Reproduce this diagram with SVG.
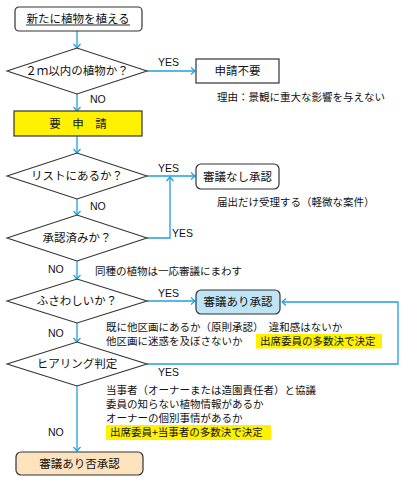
<svg xmlns="http://www.w3.org/2000/svg" width="405" height="482" viewBox="0 0 405 482">
<defs>
<style>
.bx{fill:#fff;stroke:#333;stroke-width:1.2}
.dm{fill:#fff;stroke:#333;stroke-width:1.1}
.t{font-family:"Noto Sans CJK JP","Noto Sans",sans-serif;font-size:11.5px;fill:#111;text-anchor:middle}
.s{font-family:"Noto Sans CJK JP","Noto Sans",sans-serif;font-size:10.5px;fill:#111}
.l{font-family:"Liberation Sans",Arial,sans-serif;font-size:10.5px;fill:#111}
.c{fill:none;stroke:#1e9fe0;stroke-width:1.3}
.hl{fill:#fff100}
</style>
<marker id="ah" viewBox="-6 -5 7 10" markerWidth="7" markerHeight="10" refX="0" refY="0" orient="auto" markerUnits="userSpaceOnUse">
<path d="M-4,-3.5 L0,0 L-4,3.5" fill="none" stroke="#1e9fe0" stroke-width="1.2"/>
</marker>
</defs>
<rect width="405" height="482" fill="#fff"/>

<g id="connectors">
<line class="c" x1="77" y1="31" x2="77" y2="48" marker-end="url(#ah)"/>
<line class="c" x1="147" y1="71" x2="195" y2="71" marker-end="url(#ah)"/>
<line class="c" x1="77" y1="94" x2="77" y2="111" marker-end="url(#ah)"/>
<line class="c" x1="77" y1="136" x2="77" y2="153" marker-end="url(#ah)"/>
<line class="c" x1="147" y1="176" x2="195" y2="176" marker-end="url(#ah)"/>
<line class="c" x1="77" y1="199" x2="77" y2="215" marker-end="url(#ah)"/>
<polyline class="c" points="147,238 170,238 170,177" marker-end="url(#ah)"/>
<line class="c" x1="77" y1="261" x2="77" y2="279" marker-end="url(#ah)"/>
<line class="c" x1="147" y1="301" x2="195" y2="301" marker-end="url(#ah)"/>
<line class="c" x1="77" y1="323" x2="77" y2="342" marker-end="url(#ah)"/>
<polyline class="c" points="147,364 398,364 398,302 282,302" marker-end="url(#ah)"/>
<line class="c" x1="77" y1="386" x2="77" y2="451" marker-end="url(#ah)"/>
<text class="l" x="158" y="66">YES</text>
<text class="l" x="90" y="103">NO</text>
<text class="l" x="158" y="172">YES</text>
<text class="l" x="90" y="210">NO</text>
<text class="l" x="172" y="237">YES</text>
<text class="l" x="48" y="273">NO</text>
<text class="l" x="158" y="297">YES</text>
<text class="l" x="48" y="337">NO</text>
<text class="l" x="158" y="376">YES</text>
<text class="l" x="48" y="436">NO</text>
</g>

<g id="start">
<rect class="bx" x="15" y="7" width="127" height="24" rx="4"/>
<text class="t" x="78" y="23">新たに植物を植える</text>
<line x1="26" y1="25" x2="130" y2="25" stroke="#111" stroke-width="0.9"/>
</g>

<g id="q-2m">
<polygon class="dm" points="7,71 77,48 147,71 77,94"/>
<text class="t" x="77" y="75">２ｍ以内の植物か？</text>
</g>

<g id="no-application">
<rect class="bx" x="196" y="59" width="83" height="24"/>
<text class="t" x="237.5" y="75">申請不要</text>
<text class="s" x="217" y="101">理由：景観に重大な影響を与えない</text>
</g>

<g id="application">
<rect x="14" y="111" width="128" height="25" fill="#fff100" stroke="#333" stroke-width="1.2"/>
<text class="t" x="78" y="128">要　申　請</text>
</g>

<g id="q-list">
<polygon class="dm" points="7,176 77,153 147,176 77,199"/>
<text class="t" x="77" y="180">リストにあるか？</text>
</g>

<g id="approve-no-review">
<rect class="bx" x="196" y="164" width="83" height="25" rx="5"/>
<text class="t" x="237.5" y="181">審議なし承認</text>
<text class="s" x="217" y="206">届出だけ受理する（軽微な案件）</text>
</g>

<g id="q-approved">
<polygon class="dm" points="7,238 77,215 147,238 77,261"/>
<text class="t" x="77" y="242">承認済みか？</text>
<text class="s" x="95" y="275">同種の植物は一応審議にまわす</text>
</g>

<g id="q-suitable">
<polygon class="dm" points="7,301 77,279 147,301 77,323"/>
<text class="t" x="77" y="305">ふさわしいか？</text>
</g>

<g id="approve-review">
<rect x="196" y="290" width="84" height="24" rx="5" fill="#bfe4f6" stroke="#333" stroke-width="1.2"/>
<text class="t" x="238" y="306">審議あり承認</text>
<text class="s" x="106" y="330.5">既に他区画にあるか（原則承認）　違和感はないか</text>
<text class="s" x="106" y="345">他区画に迷惑を及ぼさないか</text>
<rect class="hl" x="256" y="334" width="126" height="14.5"/>
<text class="s" x="260" y="345">出席委員の多数決で決定</text>
</g>

<g id="q-hearing">
<polygon class="dm" points="7,364 77,342 147,364 77,386"/>
<text class="t" x="77" y="368">ヒアリング判定</text>
<text class="s" x="106" y="394">当事者（オーナーまたは造園責任者）と協議</text>
<text class="s" x="106" y="408">委員の知らない植物情報があるか</text>
<text class="s" x="106" y="422">オーナーの個別事情があるか</text>
<rect class="hl" x="106" y="425" width="165" height="15"/>
<text class="s" x="110" y="436">出席委員+当事者の多数決で決定</text>
</g>

<g id="reject-review">
<rect x="16" y="452" width="127" height="23" rx="5" fill="#fde3bd" stroke="#333" stroke-width="1.2"/>
<text class="t" x="79.5" y="468">審議あり否承認</text>
</g>
</svg>
